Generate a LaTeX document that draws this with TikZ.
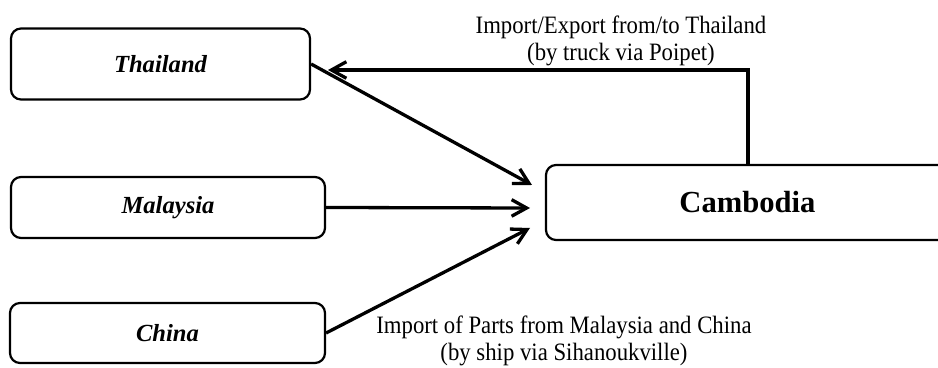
\documentclass[tikz,border=0pt]{standalone}
\usepackage{fontspec}
\setmainfont{Liberation Serif}
\newfontfamily\notefont{Liberation Serif}[FakeStretch=0.91]
\usetikzlibrary{arrows.meta}

\begin{document}
\begin{tikzpicture}[x=0.5pt, y=-0.5pt,
    country/.style={draw, line width=1.1pt, rounded corners=5pt, minimum height=30.5pt, font=\fontsize{12.3}{14}\selectfont\bfseries\itshape},
    hub/.style={draw, line width=1.1pt, rounded corners=5pt, minimum width=214pt, minimum height=37.5pt},
    arr/.style={line width=1.65pt, -{Straight Barb[length=7.5pt, width=8.3pt, line width=1.65pt]}},
    note/.style={align=center, font=\fontsize{12.5}{13.5}\notefont}]
    \useasboundingbox (0,0) rectangle (938,368);
    \node[country, minimum width=149.5pt, minimum height=35.5pt] (thai) at (160.5,64) {Thailand};
    \node[country, minimum width=157pt] (malay) at (168,207.5) {Malaysia};
    \node[country, minimum width=157.5pt, minimum height=30pt] (china) at (167.5,333) {China};
    \node[hub] (camb) at (760,202.5) {};
    \node[font=\fontsize{15.3}{18}\selectfont\bfseries] (cambtxt) at (747.5,202.5) {Cambodia};
    % arrow ends in front of Cambodia
    \coordinate (tin) at (532,185);
    \coordinate (min) at (530,208);
    \coordinate (cin) at (530,228);
    \draw[arr] (thai.east) -- (tin);
    \draw[arr] (malay.east) -- (min);
    \draw[arr] (china.east) -- (cin);
    % way back to Thailand
    \coordinate (up) at (748,70);
    \coordinate (back) at (328,70);
    \draw[arr] (camb.north -| up) -- (up) -- (back);
    \node[note] (lbltop) at (621,40.5) {Import/Export from/to Thailand\\(by truck via Poipet)};
    \node[note] (lblbot) at (564,340.5) {Import of Parts from Malaysia and China\\(by ship via Sihanoukville)};
\end{tikzpicture}
\end{document}
